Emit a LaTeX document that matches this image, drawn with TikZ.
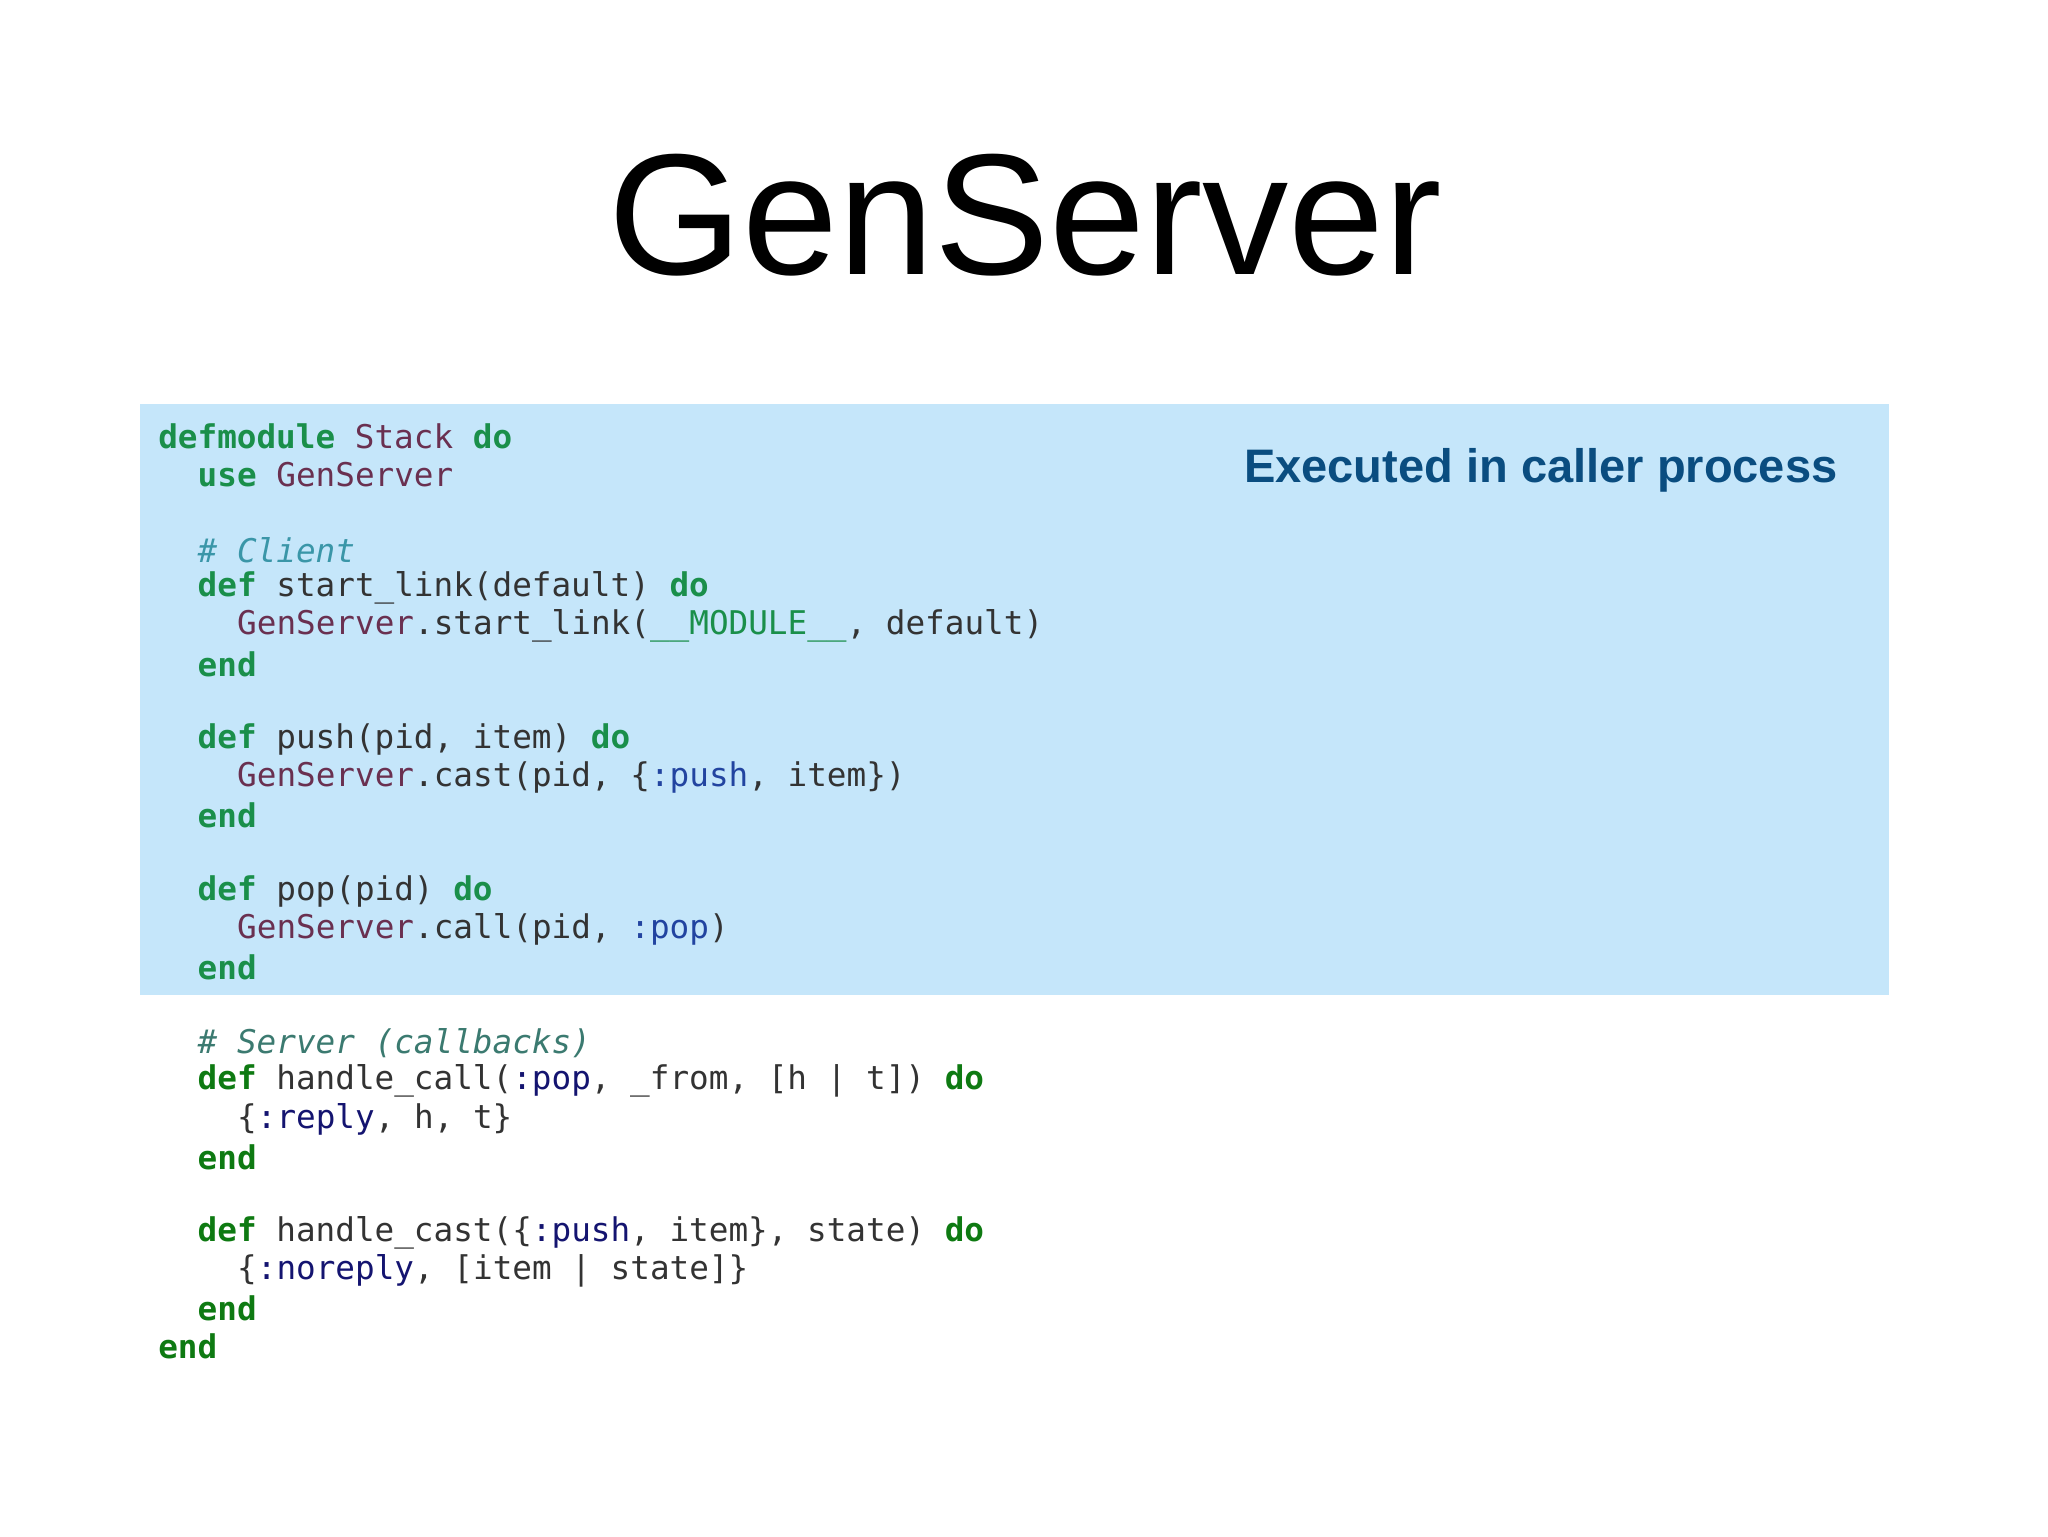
\documentclass[tikz,border=0pt]{standalone}
\usepackage{fontspec}
\setmainfont{Liberation Sans}
\setmonofont{DejaVu Sans Mono}
\definecolor{boxbg}{HTML}{C5E6FA}
\definecolor{kwin}{HTML}{1A8F4A}
\definecolor{kwout}{HTML}{0E7A12}
\definecolor{modc}{HTML}{6A3050}
\definecolor{cmin}{HTML}{3A96A8}
\definecolor{cmout}{HTML}{3B7A70}
\definecolor{atin}{HTML}{2244A0}
\definecolor{atout}{HTML}{141470}
\definecolor{txt}{HTML}{333333}
\definecolor{headc}{HTML}{0A4D80}
\newcommand{\ckw}[1]{\textbf{\color{kwin}#1}}
\newcommand{\cko}[1]{\textbf{\color{kwout}#1}}
\newcommand{\cmo}[1]{{\color{modc}#1}}
\newcommand{\ccm}[1]{\textit{\color{cmin}#1}}
\newcommand{\cco}[1]{\textit{\color{cmout}#1}}
\newcommand{\cat}[1]{{\color{atin}#1}}
\newcommand{\cao}[1]{{\color{atout}#1}}
\newcommand{\cgr}[1]{{\color{kwin}#1}}
\begin{document}
\begin{tikzpicture}[x=1pt,y=-1pt,
  code/.style={anchor=west,inner sep=0pt,font=\ttfamily\fontsize{25}{29}\selectfont,text=txt}]
\useasboundingbox (0,0) rectangle (1568,1176);
\fill[white] (0,0) rectangle (1568,1176);
\node[inner sep=0pt,font=\fontsize{132}{140}\selectfont] (title) at (785,165) {GenServer};
\fill[boxbg] (107,309) rectangle (1446,762);
\node[anchor=east,inner sep=0pt,text=headc,font=\bfseries\fontsize{36}{40}\selectfont] (head) at (1407,360) {Executed in caller process};
\def\lx#1{121+15.1*#1}
\def\ly#1{334+29.04*(#1-1)}
\node[code] (l1) at ({\lx0},{\ly1}) {\ckw{defmodule} \cmo{Stack} \ckw{do}};
\node[code] (l2) at ({\lx2},{\ly2}) {\ckw{use} \cmo{GenServer}};
\node[code] (l4) at ({\lx2},{\ly4}) {\ccm{\# Client}};
\node[code] (l5) at ({\lx2},{\ly5}) {\ckw{def} start\_link(default) \ckw{do}};
\node[code] (l6) at ({\lx4},{\ly6}) {\cmo{GenServer}.start\_link(\cgr{\_\_MODULE\_\_}, default)};
\node[code] (l7) at ({\lx2},{\ly7}) {\ckw{end}};
\node[code] (l9) at ({\lx2},{\ly9}) {\ckw{def} push(pid, item) \ckw{do}};
\node[code] (l10) at ({\lx4},{\ly{10}}) {\cmo{GenServer}.cast(pid, \{\cat{:push}, item\})};
\node[code] (l11) at ({\lx2},{\ly{11}}) {\ckw{end}};
\node[code] (l13) at ({\lx2},{\ly{13}}) {\ckw{def} pop(pid) \ckw{do}};
\node[code] (l14) at ({\lx4},{\ly{14}}) {\cmo{GenServer}.call(pid, \cat{:pop})};
\node[code] (l15) at ({\lx2},{\ly{15}}) {\ckw{end}};
\node[code] (l17) at ({\lx2},{\ly{17}}) {\cco{\# Server (callbacks)}};
\node[code] (l18) at ({\lx2},{\ly{18}}) {\cko{def} handle\_call(\cao{:pop}, \_from, [h | t]) \cko{do}};
\node[code] (l19) at ({\lx4},{\ly{19}}) {\{\cao{:reply}, h, t\}};
\node[code] (l20) at ({\lx2},{\ly{20}}) {\cko{end}};
\node[code] (l22) at ({\lx2},{\ly{22}}) {\cko{def} handle\_cast(\{\cao{:push}, item\}, state) \cko{do}};
\node[code] (l23) at ({\lx4},{\ly{23}}) {\{\cao{:noreply}, [item | state]\}};
\node[code] (l24) at ({\lx2},{\ly{24}}) {\cko{end}};
\node[code] (l25) at ({\lx0},{\ly{25}}) {\cko{end}};
\end{tikzpicture}
\end{document}
